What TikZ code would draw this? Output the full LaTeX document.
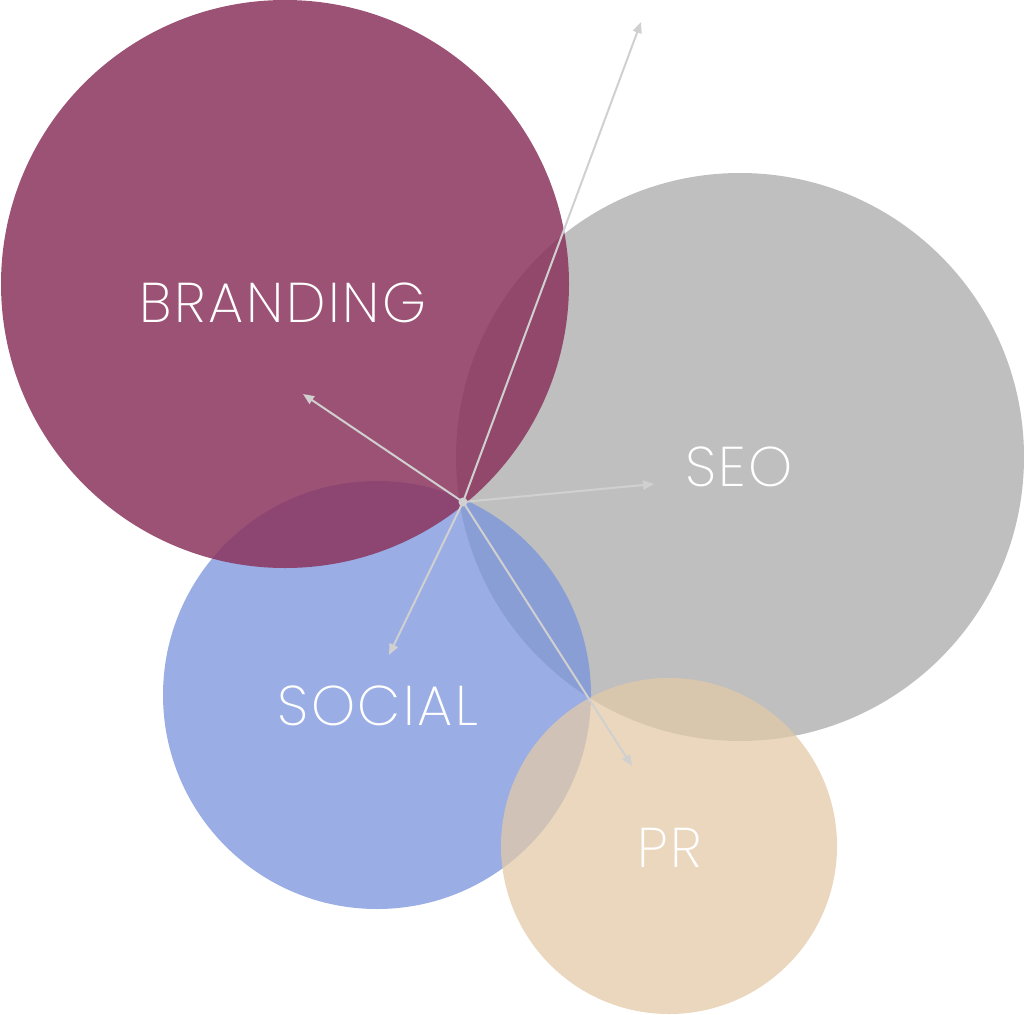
\documentclass[tikz,border=0pt]{standalone}
\usepackage{fontspec}
\newfontfamily\thinfont[LetterSpace=4.5]{Poppins ExtraLight}
\usetikzlibrary{arrows.meta}
\definecolor{brandc}{RGB}{138,52,93}
\definecolor{seoc}{RGB}{191,191,191}
\definecolor{socc}{RGB}{120,147,220}
\definecolor{prc}{RGB}{227,202,168}
\definecolor{arrc}{RGB}{208,208,208}
\tikzset{
  bubble/.style={circle, minimum size=#1, inner sep=0pt, draw=none},
  lbl/.style={text=white, font=\thinfont\fontsize{56}{56}\selectfont, inner sep=0pt},
  ray/.style={draw=arrc, line width=2pt, -{Triangle[length=11pt,width=9pt]}}
}
\begin{document}
\begin{tikzpicture}[x=1pt,y=-1pt]
\useasboundingbox (0,0) rectangle (1024,1014);
\node[bubble=568pt, fill=seoc] (seo) at (740,457) {};
\node[bubble=428pt, fill=socc, fill opacity=0.75] (social) at (377,695) {};
\node[bubble=568pt, fill=brandc, fill opacity=0.85] (branding) at (285,284) {};
\node[bubble=336pt, fill=prc, fill opacity=0.75] (pr) at (669,846) {};
\node[lbl] (tb) at (283,303) {BRANDING};
\node[lbl] (ts) at (739,467) {SEO};
\node[lbl] (tso) at (378,706) {SOCIAL};
\node[lbl] (tp) at (670,848) {PR};
\coordinate (c) at (463,502);
\coordinate (eTop) at (641,22);
\coordinate (eB) at (303,394);
\coordinate (eS) at (654,484);
\coordinate (eSo) at (389,655);
\coordinate (eP) at (632,766);
\draw[ray] (c) -- (eTop);
\draw[ray] (c) -- (eB);
\draw[ray] (c) -- (eS);
\draw[ray] (c) -- (eSo);
\draw[ray] (c) -- (eP);
\fill[arrc] (c) circle (4.5pt);
\end{tikzpicture}
\end{document}
